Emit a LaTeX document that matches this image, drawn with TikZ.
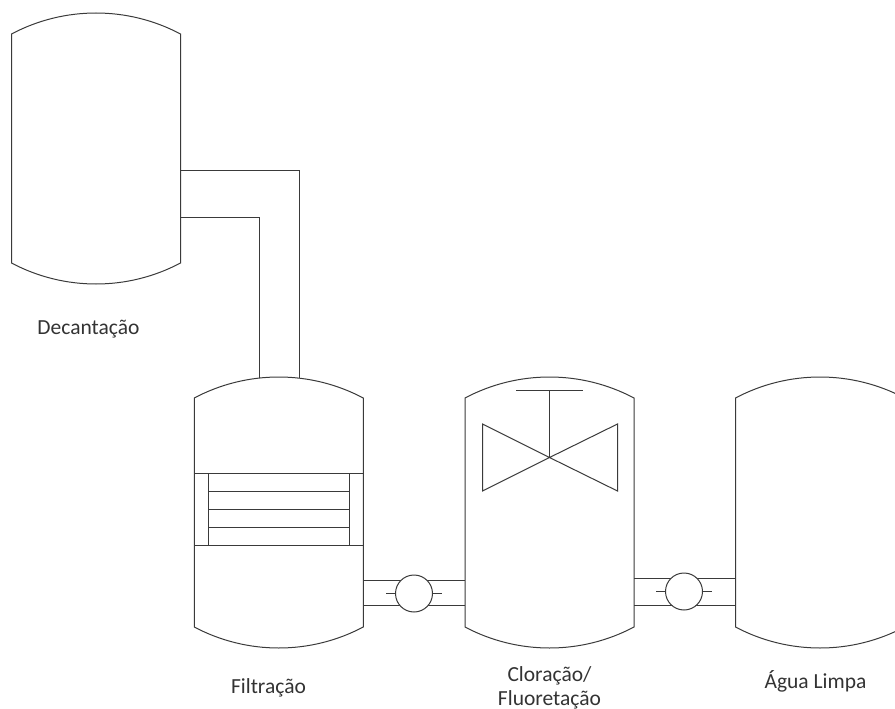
\documentclass[tikz,border=0pt]{standalone}
\usepackage{fontspec}
\setmainfont{Carlito}
\usetikzlibrary{calc}
\definecolor{linecol}{HTML}{3A3A3A}
\tikzset{
  ln/.style={draw=linecol,line width=1pt},
  tankbody/.style={minimum width=169pt,minimum height=229pt,inner sep=0pt,outer sep=0pt},
  pump/.style={circle,ln,fill=white,minimum size=37pt,inner sep=0pt,outer sep=0pt},
  lbl/.style={font=\fontsize{21.5}{24}\selectfont,text=black!80,align=center,inner sep=0pt},
}
\newcommand{\tankshape}[1]{%
  \draw[ln] (#1.north west) .. controls +(52.8pt,28pt) and ($(#1.north east)+(-52.8pt,28pt)$) .. (#1.north east)
    -- (#1.south east) .. controls +(-52.8pt,-28pt) and ($(#1.south west)+(52.8pt,-28pt)$) .. (#1.south west) -- cycle;}
\begin{document}
\begin{tikzpicture}[x=1pt,y=-1pt]
\useasboundingbox (0,0) rectangle (895,709);
\begin{scope}
\clip (0,0) rectangle (895,709);
\node[tankbody] (dec) at (96,148.5) {};
\node[tankbody] (fil) at (278.75,512.5) {};
\node[tankbody] (clo) at (549.5,512.5) {};
\node[tankbody] (agu) at (820,512.5) {};
\tankshape{dec}\tankshape{fil}\tankshape{clo}\tankshape{agu}
% pipe decantation to filter
\coordinate (pa) at (180.5,170.5);
\coordinate (pb) at (299.5,170.5);
\coordinate (pc) at (299.5,377.5);
\coordinate (qa) at (180.5,217.5);
\coordinate (qb) at (259.5,217.5);
\coordinate (qc) at (259.5,378);
\draw[ln] (pa) -- (pb) -- (pc);
\draw[ln] (qa) -- (qb) -- (qc);
% pipes with pumps
\coordinate (a1) at (363.5,580.5);
\coordinate (a2) at (465,580.5);
\coordinate (a3) at (363.5,605.5);
\coordinate (a4) at (465,605.5);
\coordinate (b1) at (634,578.5);
\coordinate (b2) at (735.5,578.5);
\coordinate (b3) at (634,605.5);
\coordinate (b4) at (735.5,605.5);
\draw[ln] (a1) -- (a2) (a3) -- (a4) (b1) -- (b2) (b3) -- (b4);
\node[pump] (p1) at (414,593.5) {};
\node[pump] (p2) at (684,591.5) {};
\coordinate (t1a) at (386,593.5);
\coordinate (t1b) at (442,593.5);
\coordinate (t2a) at (656,591.5);
\coordinate (t2b) at (712,591.5);
\draw[ln] (t1a) -- (p1.west) (p1.east) -- (t1b);
\draw[ln] (t2a) -- (p2.west) (p2.east) -- (t2b);
% filter
\draw[ln] (194.5,473.5) rectangle (363.5,545.5);
\draw[ln] (208.5,473.5) -- (208.5,545.5) (349.5,473.5) -- (349.5,545.5);
\draw[ln] (208.5,491.5) -- (349.5,491.5) (208.5,509.5) -- (349.5,509.5) (208.5,527.5) -- (349.5,527.5);
% valve
\coordinate (v) at (549.5,457.5);
\draw[ln] (v) -- (482.5,424) -- (482.5,491) -- cycle;
\draw[ln] (v) -- (617.5,424) -- (617.5,491) -- cycle;
\draw[ln] (v) -- (549.5,390.5);
\draw[ln] (516,390.5) -- (583,390.5);
\end{scope}
\node[lbl] (t1) at (88.5,329) {Decantação};
\node[lbl] (t2) at (268.5,688) {Filtração};
\node[lbl] (t3) at (549.5,687.5) {Cloração/\\Fluoretação};
\node[lbl] (t4) at (815.5,681) {Água Limpa};
\end{tikzpicture}
\end{document}
